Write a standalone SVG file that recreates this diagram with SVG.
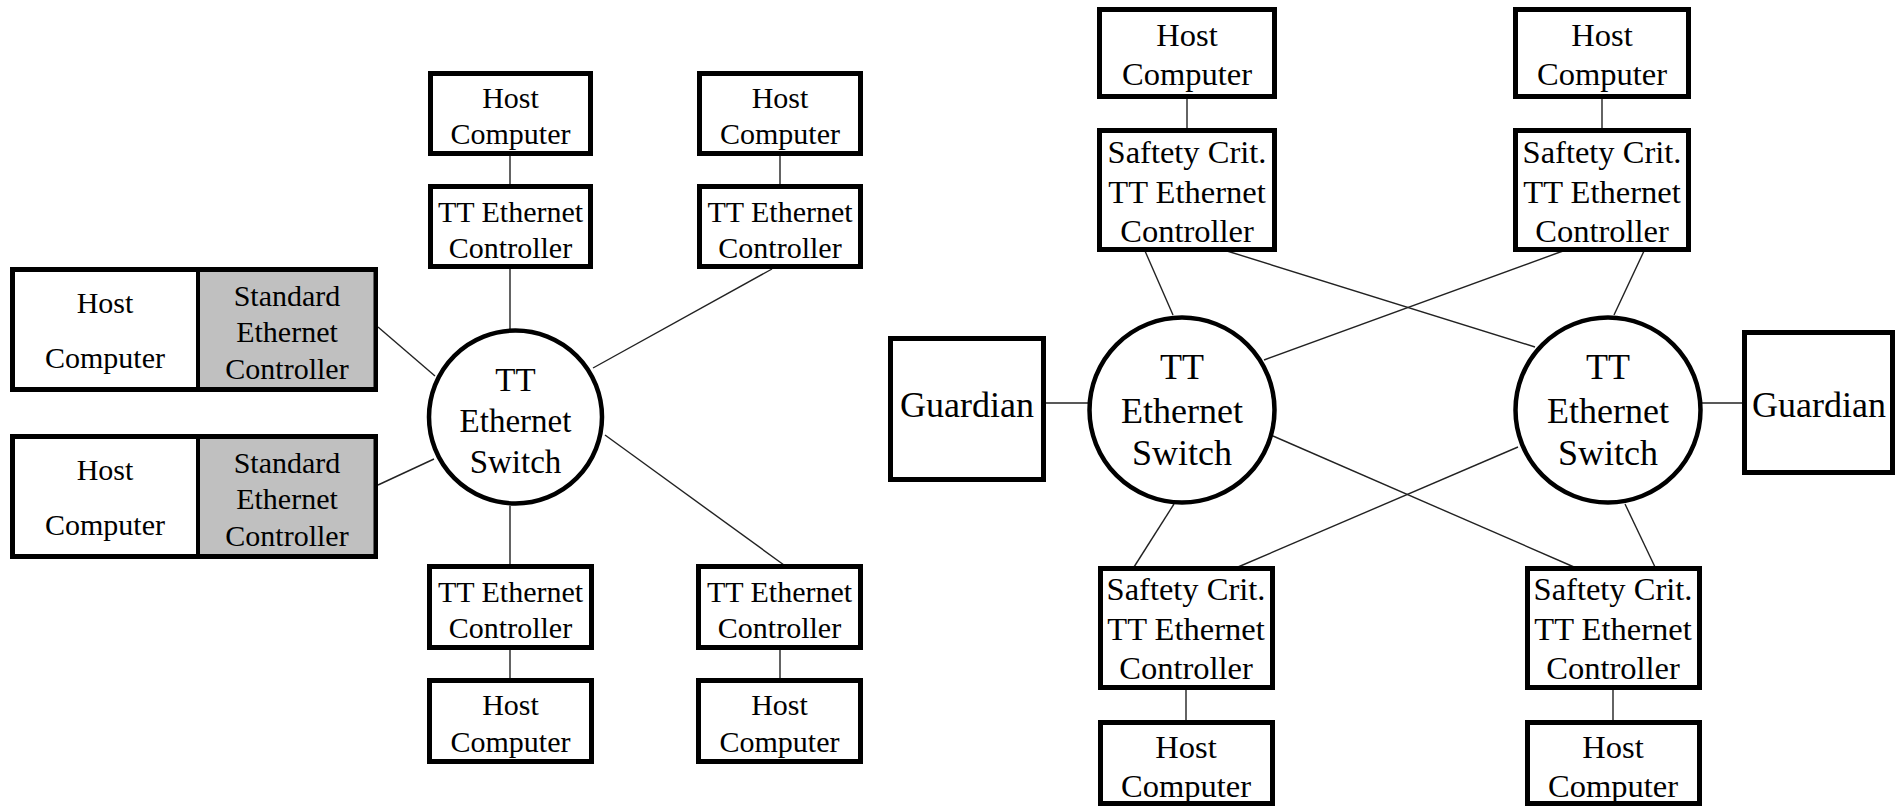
<svg xmlns="http://www.w3.org/2000/svg" width="1895" height="808" viewBox="0 0 1895 808" font-family="'Liberation Serif', 'Times New Roman', 'DejaVu Serif', serif">
<style>
.box{fill:#fff;stroke:#000;stroke-width:5}
.grey{fill:#c0c0c0;stroke:none}
.sw{fill:#fff;stroke:#000;stroke-width:4.5}
.ln{stroke:#222;stroke-width:1.4;fill:none}
text{font-family:'Liberation Serif','Times New Roman','DejaVu Serif',serif;fill:#000;text-anchor:middle}
.s1{font-size:30px}
.s2{font-size:32.5px}
.s3{font-size:33px}
.s4{font-size:36px}
</style>
<rect width="1895" height="808" fill="#fff"/>
<g id="connectors">
<line class="ln" x1="510" y1="156" x2="510" y2="184"/>
<line class="ln" x1="510" y1="269" x2="510" y2="329"/>
<line class="ln" x1="780" y1="156" x2="780" y2="184"/>
<line class="ln" x1="772" y1="269" x2="593" y2="368"/>
<line class="ln" x1="378" y1="327" x2="435" y2="376"/>
<line class="ln" x1="378" y1="485" x2="434" y2="459"/>
<line class="ln" x1="510" y1="506" x2="510" y2="565"/>
<line class="ln" x1="605" y1="435" x2="784" y2="565"/>
<line class="ln" x1="510" y1="649" x2="510" y2="679"/>
<line class="ln" x1="780" y1="649" x2="780" y2="679"/>
<line class="ln" x1="1187" y1="98" x2="1187" y2="129"/>
<line class="ln" x1="1602" y1="98" x2="1602" y2="129"/>
<line class="ln" x1="1145" y1="251" x2="1173" y2="315"/>
<line class="ln" x1="1227" y1="251" x2="1535" y2="347"/>
<line class="ln" x1="1563" y1="251" x2="1264" y2="360"/>
<line class="ln" x1="1644" y1="251" x2="1614" y2="315"/>
<line class="ln" x1="1045" y1="403" x2="1088" y2="403"/>
<line class="ln" x1="1702" y1="403" x2="1743" y2="403"/>
<line class="ln" x1="1174" y1="504" x2="1134" y2="567"/>
<line class="ln" x1="1273" y1="436" x2="1574" y2="567"/>
<line class="ln" x1="1518" y1="447" x2="1238" y2="567"/>
<line class="ln" x1="1625" y1="504" x2="1655" y2="567"/>
<line class="ln" x1="1186" y1="689" x2="1186" y2="721"/>
<line class="ln" x1="1613" y1="689" x2="1613" y2="721"/>
</g>
<g id="host-l1"><rect class="box" x="430.5" y="73.5" width="160" height="80"/><text class="s1" x="510.5" y="108">Host</text><text class="s1" x="510.5" y="144">Computer</text></g>
<g id="ctrl-l1"><rect class="box" x="430.5" y="186.5" width="160" height="80"/><text class="s1" x="510.5" y="222">TT Ethernet</text><text class="s1" x="510.5" y="258">Controller</text></g>
<g id="host-l2"><rect class="box" x="699.5" y="73.5" width="161" height="80"/><text class="s1" x="780" y="108">Host</text><text class="s1" x="780" y="144">Computer</text></g>
<g id="ctrl-l2"><rect class="box" x="699.5" y="186.5" width="161" height="80"/><text class="s1" x="780" y="222">TT Ethernet</text><text class="s1" x="780" y="258">Controller</text></g>
<g id="std-1"><rect class="box" x="12.5" y="269.5" width="363" height="120"/><rect class="grey" x="200" y="272" width="173.5" height="115"/><line x1="198" y1="269.5" x2="198" y2="389.5" stroke="#000" stroke-width="4"/><text class="s1" x="105" y="313">Host</text><text class="s1" x="105" y="368">Computer</text><text class="s1" x="287" y="306">Standard</text><text class="s1" x="287" y="342">Ethernet</text><text class="s1" x="287" y="379">Controller</text></g>
<g id="std-2"><rect class="box" x="12.5" y="436.5" width="363" height="120"/><rect class="grey" x="200" y="439" width="173.5" height="115"/><line x1="198" y1="436.5" x2="198" y2="556.5" stroke="#000" stroke-width="4"/><text class="s1" x="105" y="480">Host</text><text class="s1" x="105" y="535">Computer</text><text class="s1" x="287" y="473">Standard</text><text class="s1" x="287" y="509">Ethernet</text><text class="s1" x="287" y="546">Controller</text></g>
<g id="switch-l"><circle class="sw" cx="515.5" cy="417" r="86.5"/><text class="s3" x="515.5" y="391">TT</text><text class="s3" x="515.5" y="432">Ethernet</text><text class="s3" x="515.5" y="473">Switch</text></g>
<g id="ctrl-l3"><rect class="box" x="429.5" y="566.5" width="162" height="81"/><text class="s1" x="510.5" y="602">TT Ethernet</text><text class="s1" x="510.5" y="638">Controller</text></g>
<g id="host-l3"><rect class="box" x="429.5" y="680.5" width="162" height="81"/><text class="s1" x="510.5" y="715">Host</text><text class="s1" x="510.5" y="752">Computer</text></g>
<g id="ctrl-l4"><rect class="box" x="698.5" y="566.5" width="162" height="81"/><text class="s1" x="779.5" y="602">TT Ethernet</text><text class="s1" x="779.5" y="638">Controller</text></g>
<g id="host-l4"><rect class="box" x="698.5" y="680.5" width="162" height="81"/><text class="s1" x="779.5" y="715">Host</text><text class="s1" x="779.5" y="752">Computer</text></g>
<g id="host-r1"><rect class="box" x="1099.5" y="9.5" width="175" height="87"/><text class="s2" x="1187" y="46">Host</text><text class="s2" x="1187" y="85">Computer</text></g>
<g id="ctrl-r1"><rect class="box" x="1099.5" y="130.5" width="175" height="119"/><text class="s2" x="1187" y="163">Saftety Crit.</text><text class="s2" x="1187" y="203">TT Ethernet</text><text class="s2" x="1187" y="242">Controller</text></g>
<g id="host-r2"><rect class="box" x="1515.5" y="9.5" width="173" height="87"/><text class="s2" x="1602" y="46">Host</text><text class="s2" x="1602" y="85">Computer</text></g>
<g id="ctrl-r2"><rect class="box" x="1515.5" y="130.5" width="173" height="119"/><text class="s2" x="1602" y="163">Saftety Crit.</text><text class="s2" x="1602" y="203">TT Ethernet</text><text class="s2" x="1602" y="242">Controller</text></g>
<g id="guardian-l"><rect class="box" x="890.5" y="338.5" width="153" height="141"/><text class="s4" x="967" y="417">Guardian</text></g>
<g id="switch-r1"><circle class="sw" cx="1182" cy="410" r="92.5"/><text class="s4" x="1182" y="379">TT</text><text class="s4" x="1182" y="423">Ethernet</text><text class="s4" x="1182" y="465">Switch</text></g>
<g id="switch-r2"><circle class="sw" cx="1608" cy="410" r="92.5"/><text class="s4" x="1608" y="379">TT</text><text class="s4" x="1608" y="423">Ethernet</text><text class="s4" x="1608" y="465">Switch</text></g>
<g id="guardian-r"><rect class="box" x="1744.5" y="332.5" width="148" height="140"/><text class="s4" x="1819" y="417">Guardian</text></g>
<g id="ctrl-r3"><rect class="box" x="1100.5" y="568.5" width="172" height="119"/><text class="s2" x="1186" y="600">Saftety Crit.</text><text class="s2" x="1186" y="640">TT Ethernet</text><text class="s2" x="1186" y="679">Controller</text></g>
<g id="host-r3"><rect class="box" x="1100.5" y="722.5" width="172" height="81"/><text class="s2" x="1186" y="758">Host</text><text class="s2" x="1186" y="797">Computer</text></g>
<g id="ctrl-r4"><rect class="box" x="1527.5" y="568.5" width="172" height="119"/><text class="s2" x="1613" y="600">Saftety Crit.</text><text class="s2" x="1613" y="640">TT Ethernet</text><text class="s2" x="1613" y="679">Controller</text></g>
<g id="host-r4"><rect class="box" x="1527.5" y="722.5" width="172" height="81"/><text class="s2" x="1613" y="758">Host</text><text class="s2" x="1613" y="797">Computer</text></g>
</svg>
